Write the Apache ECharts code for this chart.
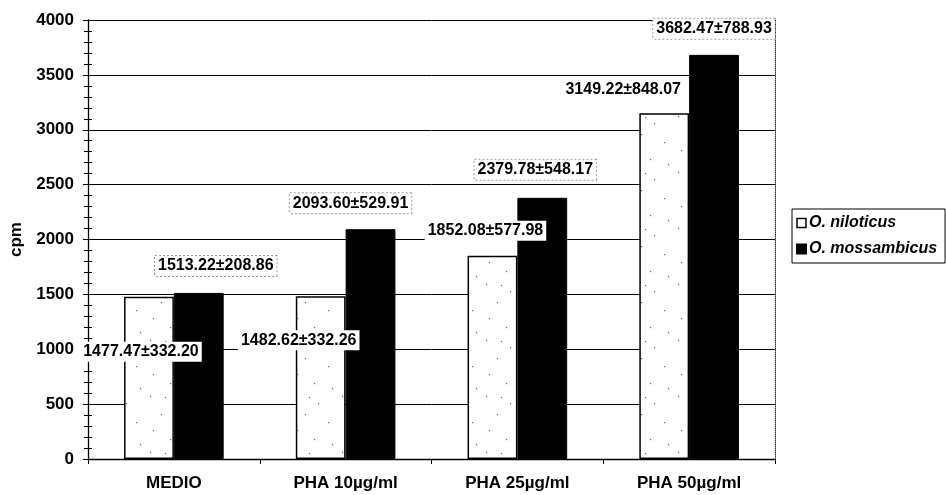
<!DOCTYPE html>
<html>
<head>
<meta charset="utf-8">
<script src="https://cdn.jsdelivr.net/npm/echarts@6/dist/echarts.min.js"></script>
<style>
  html, body { margin: 0; padding: 0; background: #fff; }
  #chart { width: 946px; height: 495px; }
</style>
</head>
<body>
<div id="chart"></div>
<script>
// Lymphocyte proliferation (cpm), mean ± SD per stimulation condition
const categories = ['MEDIO', 'PHA 10µg/ml', 'PHA 25µg/ml', 'PHA 50µg/ml'];
const niloticusMean = [1477.47, 1482.62, 1852.08, 3149.22];
const niloticusSD = [332.20, 332.26, 577.98, 848.07];
const mossambicusMean = [1513.22, 2093.60, 2379.78, 3682.47];
const mossambicusSD = [208.86, 529.91, 548.17, 788.93];
const yMin = 0, yMax = 4000, yStep = 500;

const FONT = '"Liberation Sans", Arial, sans-serif';

// label nudges (px) relative to the top of each bar
const nilNudge = [[-8, 65], [-22, 54], [-7, -15], [-41, -14]];
const mosNudge = [[17, -17], [-20, -16], [-7, -18], [0, -16]];

// sparse stipple fill for the open bars
function stipple() {
  const c = document.createElement('canvas');
  c.width = 48; c.height = 56;
  const g = c.getContext('2d');
  g.fillStyle = '#fff';
  g.fillRect(0, 0, 48, 56);
  g.fillStyle = '#666';
  const dots = [[6, 4], [30, 11], [17, 22], [40, 30], [9, 38], [26, 47], [44, 52], [21, 5]];
  dots.forEach(d => g.fillRect(d[0], d[1], 1.2, 1.2));
  return c;
}

function fmt(m, s) { return m.toFixed(2) + '±' + s.toFixed(2); }

const labelBase = {
  show: true,
  position: 'top',
  distance: 0,
  color: '#000',
  fontFamily: FONT,
  fontWeight: 'bold',
  fontSize: 16,
  backgroundColor: '#fff',
  padding: [2, 3, 2, 3]
};

const nilData = niloticusMean.map((v, i) => ({
  value: v,
  label: Object.assign({}, labelBase, {
    offset: nilNudge[i],
    formatter: fmt(v, niloticusSD[i])
  })
}));
const mosData = mossambicusMean.map((v, i) => ({
  value: v,
  label: Object.assign({}, labelBase, {
    offset: mosNudge[i],
    borderColor: '#9a9a9a',
    borderWidth: 1,
    borderType: 'dotted',
    formatter: fmt(v, mossambicusSD[i])
  })
}));

const chart = echarts.init(document.getElementById('chart'), null, { renderer: 'canvas' });

const valueAxisBase = {
  type: 'value', min: yMin, max: yMax, interval: yStep
};

chart.setOption({
  animation: false,
  backgroundColor: '#fff',
  grid: { left: 87, right: 171, top: 20, bottom: 36, containLabel: false },
  legend: {
    orient: 'vertical',
    left: 792,
    top: 209,
    padding: [6, 8, 6, 4],
    itemGap: 10,
    itemWidth: 9,
    itemHeight: 9,
    borderColor: '#000',
    borderWidth: 1,
    textStyle: { fontFamily: FONT, fontWeight: 'bold', fontStyle: 'italic', fontSize: 16, color: '#000', padding: [0, 0, 0, -2] },
    data: [
      { name: 'O. niloticus', icon: 'rect', itemStyle: { color: '#fff', borderColor: '#000', borderWidth: 1.5 } },
      { name: 'O. mossambicus', icon: 'rect', itemStyle: { color: '#000' } }
    ]
  },
  xAxis: {
    type: 'category',
    data: categories,
    axisLine: { lineStyle: { color: '#000', width: 1.3 } },
    axisTick: { show: true, length: 5, lineStyle: { color: '#000' } },
    axisLabel: { margin: 16, color: '#000', fontFamily: FONT, fontWeight: 'bold', fontSize: 17 }
  },
  yAxis: [
    Object.assign({}, valueAxisBase, {
      name: 'cpm',
      nameLocation: 'middle',
      nameRotate: 90,
      nameGap: 63,
      nameTextStyle: { fontFamily: FONT, fontWeight: 'bold', fontSize: 17, color: '#000' },
      axisLine: { show: true, lineStyle: { color: '#000', width: 1.3 } },
      axisTick: { show: true, length: 5, lineStyle: { color: '#000' } },
      minorTick: { show: true, splitNumber: 5, length: 4, lineStyle: { color: '#000' } },
      splitLine: { show: true, lineStyle: { color: '#000', width: 1 } },
      axisLabel: {
        margin: 14, color: '#000', fontFamily: FONT, fontWeight: 'bold', fontSize: 17,
        formatter: v => String(v)
      }
    }),
    Object.assign({}, valueAxisBase, {
      position: 'left',
      axisLine: { show: false },
      axisTick: { show: true, inside: true, length: 5, lineStyle: { color: '#000' } },
      minorTick: { show: true, splitNumber: 5, length: 4, lineStyle: { color: '#000' } },
      splitLine: { show: false },
      axisLabel: { show: false }
    }),
    Object.assign({}, valueAxisBase, {
      position: 'right',
      axisLine: { show: true, lineStyle: { color: '#333', width: 1, type: 'dotted' } },
      axisTick: { show: false },
      splitLine: { show: false },
      axisLabel: { show: false }
    })
  ],
  series: [
    {
      name: 'O. niloticus',
      type: 'bar',
      barGap: '0%',
      barCategoryGap: '42%',
      itemStyle: { color: { image: stipple(), repeat: 'repeat' }, borderColor: '#000', borderWidth: 1.5 },
      data: nilData,
      z: 3
    },
    {
      name: 'O. mossambicus',
      type: 'bar',
      barGap: '0%',
      barCategoryGap: '42%',
      itemStyle: { color: '#000', borderColor: '#000', borderWidth: 1 },
      data: mosData,
      z: 3
    }
  ]
});
</script>
</body>
</html>
